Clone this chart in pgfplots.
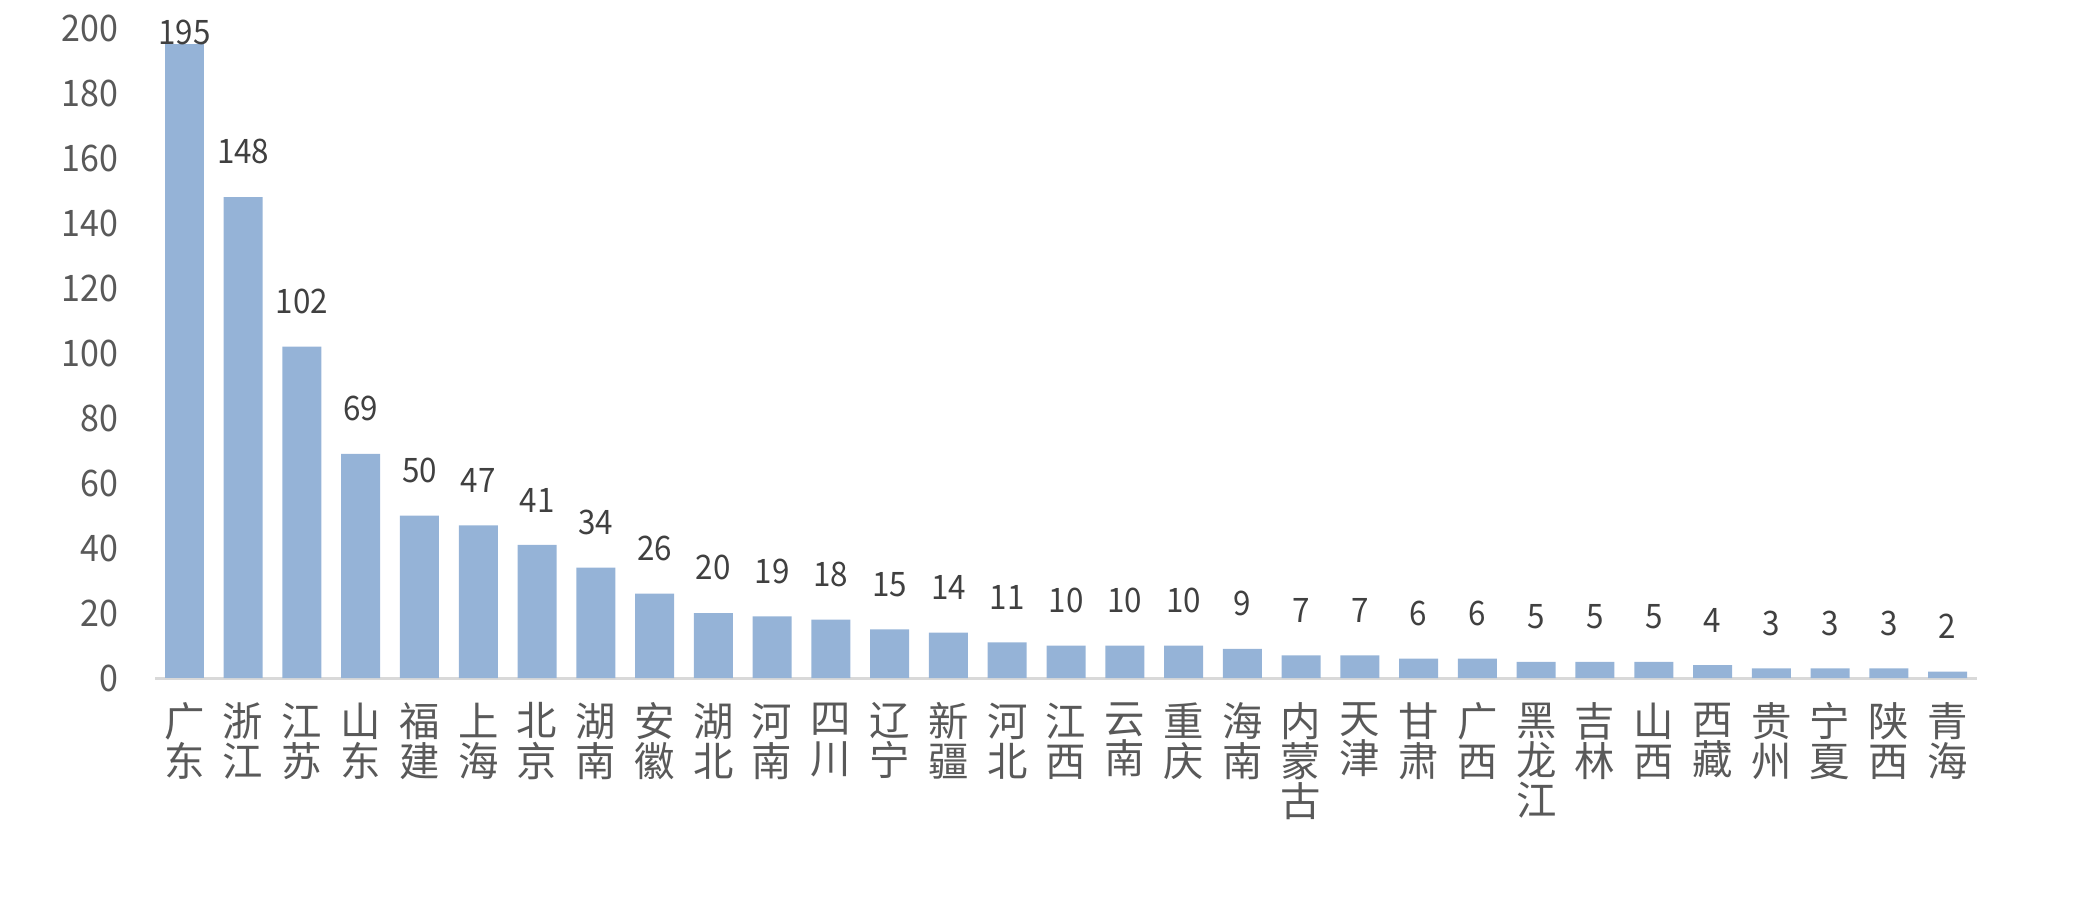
\documentclass[border=0pt]{standalone}
\usepackage{fontspec}
\setmainfont{Noto Sans CJK SC}
\newfontfamily\numfont[FakeStretch=0.93]{Noto Sans CJK SC}
\usepackage{pgfplots}
\pgfplotsset{compat=1.18}
\definecolor{barblue}{HTML}{95B3D7}
\definecolor{ticktext}{HTML}{595959}
\definecolor{labeltext}{HTML}{404040}
\definecolor{axisgray}{HTML}{D9D9D9}

\begin{document}
\begin{tikzpicture}
\path[use as bounding box] (0,0) rectangle (20.99cm,9.02cm);
\begin{axis}[
    at={(1.55cm,2.24cm)}, anchor=south west,
    scale only axis,
    width=18.22cm, height=6.5cm,
    ymin=0, ymax=200,
    xmin=-0.5, xmax=30.5,
    ytick={0,20,...,200},
    xtick={0,...,30},
    xticklabels={{广\\东},{浙\\江},{江\\苏},{山\\东},{福\\建},{上\\海},{北\\京},{湖\\南},{安\\徽},{湖\\北},{河\\南},{四\\川},{辽\\宁},{新\\疆},{河\\北},{江\\西},{云\\南},{重\\庆},{海\\南},{内\\蒙\\古},{天\\津},{甘\\肃},{广\\西},{黑\\龙\\江},{吉\\林},{山\\西},{西\\藏},{贵\\州},{宁\\夏},{陕\\西},{青\\海}},
    axis x line*=bottom, axis y line*=left,
    x axis line style={draw=axisgray, line width=0.85pt, -},
    y axis line style={draw=none},
    major tick length=0pt,
    /pgf/number format/assume math mode=true,
    yticklabel style={font=\numfont\fontsize{10.4}{12}\selectfont, text=ticktext, inner sep=0pt, xshift=-0.36cm},
    xticklabel style={font=\fontsize{11.5}{11.4}\selectfont, text=ticktext, align=center, inner sep=0pt, anchor=north, yshift=-0.24cm},
    clip=false,
    ybar, bar width=0.39cm, bar shift=0pt,
    nodes near coords,
    nodes near coords style={font=\numfont\fontsize{9.6}{11}\selectfont, text=labeltext, inner sep=0pt, anchor=south},
]
\addplot[fill=barblue, draw=none, nodes near coords style={yshift=-0.01cm}] coordinates {(0,195)};
\addplot[fill=barblue, draw=none, nodes near coords style={yshift=0.32cm}] coordinates {
(1,148) (2,102) (3,69) (4,50) (5,47) (6,41) (7,34) (8,26) (9,20) (10,19)
(11,18) (12,15) (13,14) (14,11) (15,10) (16,10) (17,10) (18,9) (19,7) (20,7)
(21,6) (22,6) (23,5) (24,5) (25,5) (26,4) (27,3) (28,3) (29,3) (30,2)};
\end{axis}
\end{tikzpicture}
\end{document}
